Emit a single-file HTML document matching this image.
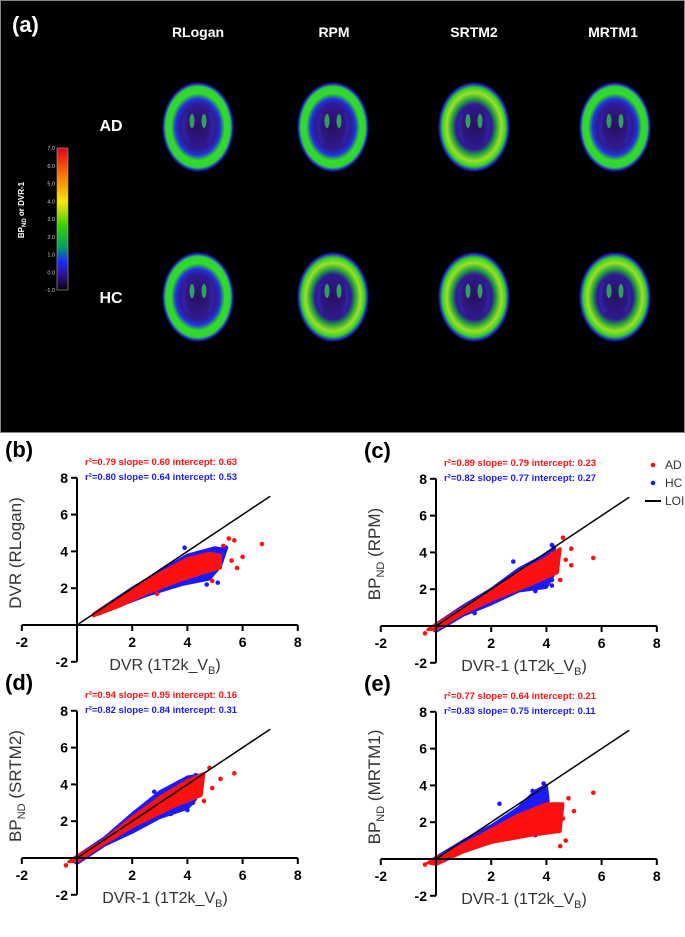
<!DOCTYPE html>
<html><head><meta charset="utf-8"><style>
body{margin:0;background:#fff;width:685px;height:937px;overflow:hidden}
svg{display:block;font-family:"Liberation Sans",sans-serif}
</style></head><body>
<svg id="fig" width="685" height="937" viewBox="0 0 685 937">
<defs>
<linearGradient id="cbar" x1="0" y1="0" x2="0" y2="1">
<stop offset="0" stop-color="#e0001a"/><stop offset="0.2" stop-color="#ff7a00"/><stop offset="0.38" stop-color="#ffe600"/>
<stop offset="0.55" stop-color="#33d000"/><stop offset="0.7" stop-color="#00a060"/><stop offset="0.8" stop-color="#1a2aff"/>
<stop offset="0.9" stop-color="#30108a"/><stop offset="1" stop-color="#0a0010"/></linearGradient>
<radialGradient id="brain" cx="0.5" cy="0.5" r="0.5">
<stop offset="0" stop-color="#2a1060"/><stop offset="0.5" stop-color="#301a90"/><stop offset="0.62" stop-color="#2030e0"/>
<stop offset="0.75" stop-color="#30e020"/><stop offset="0.9" stop-color="#30d040"/><stop offset="0.96" stop-color="#2020c0"/><stop offset="1" stop-color="#100030"/></radialGradient>
<radialGradient id="brainHot" cx="0.5" cy="0.5" r="0.5">
<stop offset="0" stop-color="#2a1060"/><stop offset="0.5" stop-color="#301a90"/><stop offset="0.62" stop-color="#20a040"/>
<stop offset="0.76" stop-color="#a0e020"/><stop offset="0.88" stop-color="#30d030"/><stop offset="0.96" stop-color="#2020c0"/><stop offset="1" stop-color="#100030"/></radialGradient>
</defs>
<rect x="0.5" y="0.5" width="684" height="432" fill="#000" stroke="#888"/>
<text x="12" y="32" fill="#fff" font-size="22" font-weight="bold">(a)</text>
<g fill="#fff" font-size="14" font-weight="bold" text-anchor="middle">
<text x="198" y="37">RLogan</text>
<text x="334" y="37">RPM</text>
<text x="474" y="37">SRTM2</text>
<text x="613" y="37">MRTM1</text>
<text x="111" y="131" font-size="16">AD</text>
<text x="111" y="303" font-size="16">HC</text>
</g>
<rect x="57" y="148" width="11" height="142" fill="url(#cbar)" stroke="#aaa" stroke-width="0.6"/>
<g id="cbticks" fill="#ccc" font-size="5.5" text-anchor="end"></g>
<text transform="translate(24,210) rotate(-90)" fill="#fff" font-size="8" font-weight="bold" text-anchor="middle">BP<tspan font-size="6" dy="2">ND</tspan><tspan dy="-2"> or DVR-1</tspan></text>
<g id="brains"></g>
<g id="scatters"></g>
</svg>
<script>
const cbLabels=["7.0","6.0","5.0","4.0","3.0","2.0","1.0","0.0","-1.0"];
const brainCols=[198,333,474,615];
const brainRows=[127,297];
const brainHot=[[false,false,true,false],[false,true,true,true]];

const panelNames=["b","c","d","e"];
const yTitles=[["DVR (RLogan)",""],["BP","ND"],["BP","ND"],["BP","ND"]];
const ySuffix=[""," (RPM)"," (SRTM2)"," (MRTM1)"];
const xTitles=["DVR (1T2k_V","DVR-1 (1T2k_V","DVR-1 (1T2k_V","DVR-1 (1T2k_V"];
const statsAD=["r²=0.79 slope= 0.60 intercept: 0.63","r²=0.89 slope= 0.79 intercept: 0.23","r²=0.94 slope= 0.95 intercept: 0.16","r²=0.77 slope= 0.64 intercept: 0.21"];
const statsHC=["r²=0.80 slope= 0.64 intercept: 0.53","r²=0.82 slope= 0.77 intercept: 0.27","r²=0.82 slope= 0.84 intercept: 0.31","r²=0.83 slope= 0.75 intercept: 0.11"];
const xTicks=[-2,2,4,6,8];
const yTicks=[-2,2,4,6,8];
const envHC=[
[[0.8,0.8],[2,2.0],[3,2.9],[4,3.8],[5,4.2],[5.4,4.1],[5.2,3.2],[4.8,2.5],[3.8,2.2],[2.5,1.6],[1.3,0.9],[0.8,0.6]],
[[-0.2,-0.1],[1,1.1],[2,2.0],[3,3.1],[4,3.9],[4.3,4.3],[4.3,2.9],[4,2.1],[3,1.9],[2,1.2],[1,0.6],[0,-0.3]],
[[-0.2,-0.1],[1,1.1],[2,2.4],[3,3.6],[4,4.4],[4.4,4.5],[4.3,3.2],[4,2.7],[3,2.2],[2,1.4],[1,0.7],[0,-0.3]],
[[-0.2,-0.1],[1,1.0],[2,1.8],[3,2.8],[3.6,3.7],[4,4.0],[4.1,2.7],[4,1.6],[3,1.4],[2,0.9],[1,0.4],[0,-0.3]]];
const envAD=[
[[0.6,0.6],[2,1.9],[3,2.8],[4,3.6],[4.8,3.9],[5.2,3.8],[5.2,3.1],[4.5,2.8],[3.5,2.3],[2.5,1.7],[1.5,1.0],[0.6,0.5]],
[[-0.3,-0.2],[1,1.0],[2,1.9],[3,2.9],[4,3.7],[4.5,4.2],[4.4,2.9],[3.5,2.3],[2,1.4],[1,0.7],[0,-0.2]],
[[-0.3,-0.2],[1,1.0],[2,2.2],[3,3.3],[4,4.2],[4.6,4.6],[4.5,3.4],[3.5,2.8],[2,1.7],[1,0.8],[0,-0.2]],
[[-0.3,-0.2],[1,0.8],[2,1.6],[3,2.4],[4,3.0],[4.6,3.0],[4.5,1.5],[3.5,1.3],[2,0.9],[1,0.4],[0,-0.3]]];
const outHC=[
[[5.4,4.2],[5.1,2.3],[4.7,2.2],[2.2,1.5],[1.6,1.5],[3.9,4.2],[4.9,4.1]],
[[4.2,2.2],[4.2,2.5],[3.6,1.9],[2.4,1.6],[4.2,4.4],[2.8,3.5],[1.4,0.7]],
[[4.0,2.6],[4.2,3.0],[2.8,3.6],[3.4,2.4],[1.5,1.5],[4.3,4.5]],
[[3.9,4.1],[3.5,3.7],[4.2,1.6],[3.6,1.3],[2.3,3.0],[1.4,1.0]]];
const outAD=[
[[6.7,4.4],[5.7,4.6],[5.6,3.5],[6.0,3.7],[5.8,3.1],[5.3,4.3],[4.9,2.4],[2.9,1.7],[5.5,4.7]],
[[5.7,3.7],[4.6,4.8],[4.9,4.2],[4.9,3.3],[4.5,2.5],[4.7,3.6],[-0.4,-0.4],[4.2,3.9]],
[[5.7,4.6],[5.2,4.3],[4.8,4.9],[4.6,3.1],[4.9,3.8],[-0.4,-0.4]],
[[5.7,3.6],[4.8,3.3],[4.7,1.0],[4.5,0.7],[4.3,2.9],[4.6,2.2],[5.0,2.6],[-0.4,-0.3]]];
const origins=[[77,625],[436,626],[77,858],[436,859]];
const ux=27.6, uy=18.4;

const NS="http://www.w3.org/2000/svg";
function mk(tag,attrs,parent){const e=document.createElementNS(NS,tag);for(const k in attrs)e.setAttribute(k,attrs[k]);parent.appendChild(e);return e;}

const cbt=document.getElementById('cbticks');
cbLabels.forEach((l,i)=>{const y=148+i*142/(cbLabels.length-1);
 const t=mk('text',{x:55,y:y+2},cbt);t.textContent=l;
 
 });

const bg=document.getElementById('brains');
brainRows.forEach((cy,r)=>brainCols.forEach((cx,c)=>{
 const g=mk('g',{},bg);
 
 
 mk('ellipse',{cx:cx,cy:cy,rx:36,ry:45,fill:brainHot[r][c]?'url(#brainHot)':'url(#brain)'},g);
 mk('path',{d:`M${cx-12} ${cy-14} q-6 16 2 30 M${cx+12} ${cy-14} q6 16 -2 30`,stroke:'#3020a0','stroke-width':4,fill:'none'},g);
 mk('ellipse',{cx:cx-6,cy:cy-6,rx:2.5,ry:7,fill:'#30a060'},g);
 mk('ellipse',{cx:cx+6,cy:cy-6,rx:2.5,ry:7,fill:'#30a060'},g);
}));

const sg=document.getElementById('scatters');
function X(o,v){return o[0]+v*ux;} function Y(o,v){return o[1]-v*uy;}
origins.forEach((o,p)=>{
 const g=mk('g',{},sg);
 
 
 const lab=mk('text',{x:o[0]-72,y:o[1]-168,'font-size':22,'font-weight':'bold'},g);lab.textContent='('+panelNames[p]+')';
 
 
 [[envHC,outHC,'#1a1aff'],[envAD,outAD,'#ff1010']].forEach(([env,out,col])=>{
  const pts=env[p].map(d=>X(o,d[0])+','+Y(o,d[1])).join(' ');
  const pl=mk('polygon',{points:pts,fill:col,stroke:col,'stroke-width':3,'stroke-linejoin':'round'},g);
  
  
  out[p].forEach(d=>{const c=mk('circle',{cx:X(o,d[0]),cy:Y(o,d[1]),r:2.3,fill:col},g);
   
   });
 });
 const loi=mk('line',{x1:X(o,0),y1:Y(o,0),x2:X(o,7),y2:Y(o,7),stroke:'#000','stroke-width':1.5},g);
 
 
 mk('line',{x1:X(o,-2),y1:o[1],x2:X(o,8),y2:o[1],stroke:'#000','stroke-width':2},g);
 mk('line',{x1:o[0],y1:Y(o,-2),x2:o[0],y2:Y(o,8),stroke:'#000','stroke-width':2},g);
 xTicks.forEach(v=>{mk('line',{x1:X(o,v),y1:o[1],x2:X(o,v),y2:o[1]+6,stroke:'#000','stroke-width':2},g);
  const t=mk('text',{x:X(o,v),y:o[1]+22,'font-size':14,'font-weight':'bold','text-anchor':'middle'},g);t.textContent=v;
  
  });
 yTicks.forEach(v=>{mk('line',{x1:o[0]-6,y1:Y(o,v),x2:o[0],y2:Y(o,v),stroke:'#000','stroke-width':2},g);
  const t=mk('text',{x:o[0]-9,y:Y(o,v)+5,'font-size':14,'font-weight':'bold','text-anchor':'end'},g);t.textContent=v;
  
  });
 const xt=mk('text',{x:o[0]+88,y:o[1]+45,'font-size':16,fill:'#333','text-anchor':'middle'},g);
 xt.innerHTML=xTitles[p]+'<tspan font-size="11" dy="4">B</tspan><tspan dy="-4">)</tspan>';
 
 
 const yt=mk('text',{transform:`translate(${o[0]-56},${o[1]-72}) rotate(-90)`,'font-size':17,fill:'#333','text-anchor':'middle'},g);
 if(p==0) yt.textContent=yTitles[0][0]; else yt.innerHTML='BP<tspan font-size="11" dy="4">ND</tspan><tspan dy="-4">'+ySuffix[p]+'</tspan>';
 
 
 const s1=mk('text',{x:o[0]+8,y:o[1]-160,'font-size':9.5,'font-weight':'bold',fill:'#ff1010'},g);s1.textContent=statsAD[p];
 
 
 const s2=mk('text',{x:o[0]+8,y:o[1]-145,'font-size':9.5,'font-weight':'bold',fill:'#1a1aff'},g);s2.textContent=statsHC[p];
 
 
});
const lg=mk('g',{'font-size':12,fill:'#333'},sg);


mk('circle',{cx:653,cy:465,r:2.3,fill:'#ff1010'},lg);
let t=mk('text',{x:665,y:469},lg);t.textContent='AD';
mk('circle',{cx:653,cy:483,r:2.3,fill:'#1a1aff'},lg);
t=mk('text',{x:665,y:487},lg);t.textContent='HC';
mk('line',{x1:645,y1:501,x2:661,y2:501,stroke:'#000','stroke-width':2},lg);
t=mk('text',{x:665,y:505},lg);t.textContent='LOI';
</script>
</body></html>
